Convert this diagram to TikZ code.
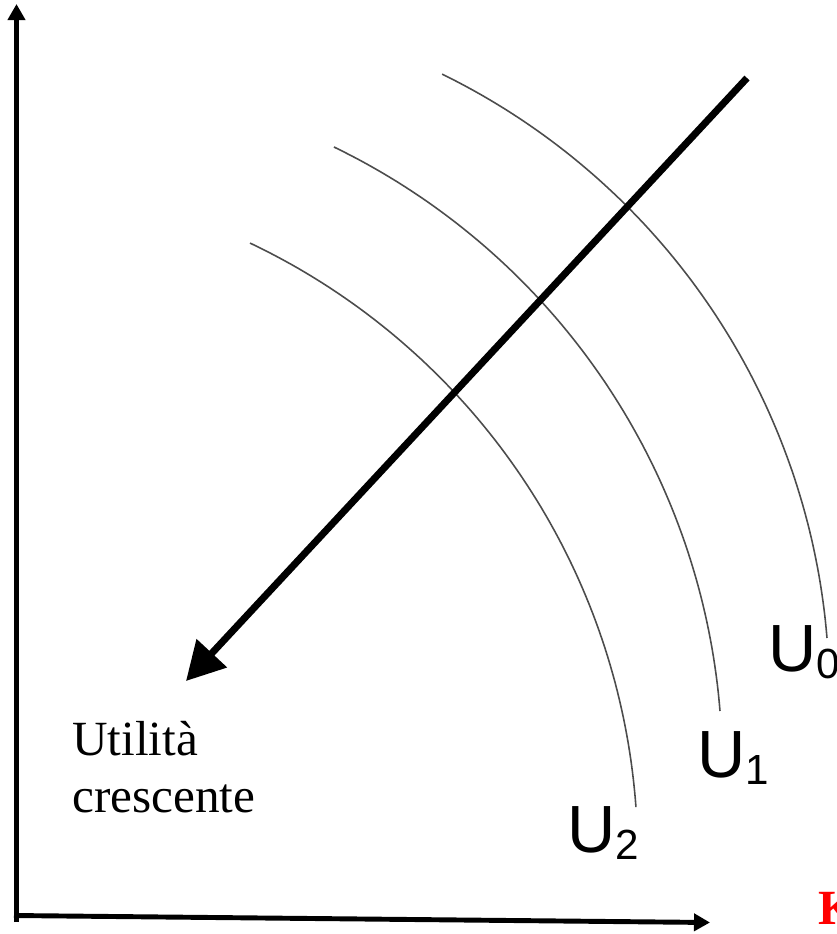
\documentclass[tikz,border=0pt]{standalone}
\usepackage{fontspec}
\setmainfont{Liberation Serif}
\newfontfamily\arialfont{Liberation Sans}
\usepackage{tikz}
\usetikzlibrary{positioning,arrows.meta}
\usepackage{xcolor}
\definecolor{kred}{RGB}{255,0,0}
\newcommand{\curvaU}[5]{\draw[curva] plot[domain=#4:#5,samples=80] ({#1+#3*cos(\x)},{#2+#3*sin(\x)});}
\newcommand{\ulab}[1]{U\raisebox{-4.5pt}{\fontsize{24}{24}\selectfont #1}}

\begin{document}
\begin{tikzpicture}[x=0.02cm,y=-0.02cm,
    asse/.style={line width=2.8pt,-{Triangle[length=0.32cm,width=0.34cm]}},
    curva/.style={line width=0.9pt,black!70},
    ulabel/.style={anchor=base west,inner sep=0pt,font=\arialfont\fontsize{38}{40}\selectfont}]
    \useasboundingbox (0,0) rectangle (837,934);
    \clip (0,0) rectangle (837,934);
    % assi
    \coordinate (o1) at (16.5,922);
    \coordinate (ytop) at (16.5,4);
    \coordinate (o2) at (14,915.5);
    \coordinate (xend) at (710,922.5);
    \draw[asse] (o1) -- (ytop);
    \draw[asse] (o2) -- (xend);
    % curve di indifferenza
    \curvaU{138}{695}{691.4}{-63.9}{-4.73}
    \curvaU{33.6}{766.7}{688.7}{-64.14}{-4.64}
    \curvaU{-41.7}{856.7}{679.5}{-64.57}{-4.19}
    \node[ulabel] (u0) at (768,671) {\ulab{0}};
    \node[ulabel] (u1) at (697,777) {\ulab{1}};
    \node[ulabel] (u2) at (567,852) {\ulab{2}};
    % freccia
    \coordinate (fstart) at (747,78);
    \coordinate (fend) at (186,681);
    \draw[line width=4pt,-{Triangle[length=0.76cm,width=0.8cm]}] (fstart) -- (fend);
    \node[anchor=base west,inner sep=0pt,font=\fontsize{28}{32}\selectfont] (util) at (72,755) {Utilità};
    \node[anchor=base west,inner sep=0pt,font=\fontsize{28}{32}\selectfont] (cresc) at (72,812) {crescente};
    \node[anchor=base west,inner sep=0pt,text=kred,font=\bfseries\fontsize{28}{32}\selectfont] (k) at (818,924) {K};
\end{tikzpicture}
\end{document}
